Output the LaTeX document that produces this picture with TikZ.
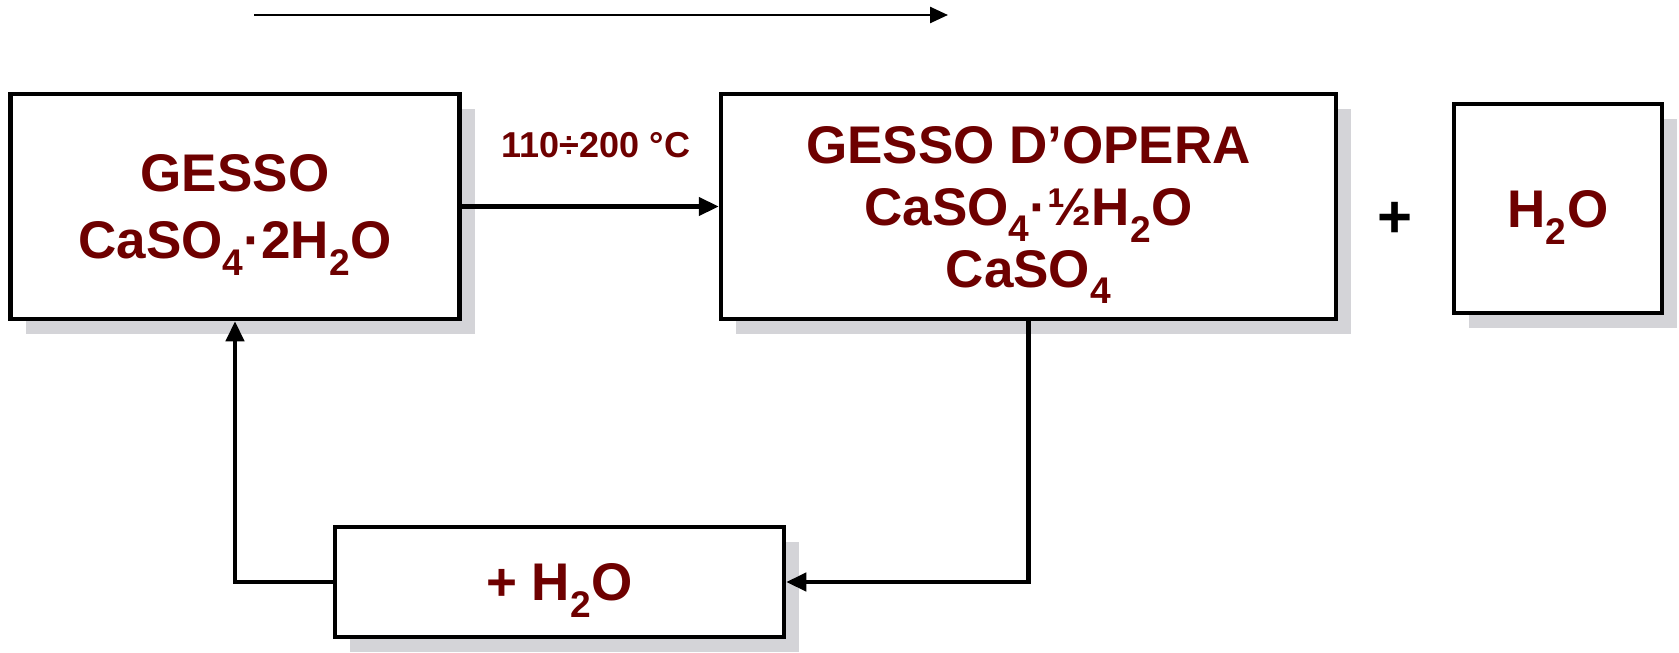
\documentclass[tikz,border=0pt]{standalone}
\usepackage{fontspec}
\setmainfont{Liberation Sans}
\usetikzlibrary{arrows.meta, shadows}
\definecolor{gessored}{RGB}{110,0,0}
\definecolor{shadowgray}{RGB}{212,212,216}
\newcommand{\chsub}[1]{\textsubscript{#1}}
\tikzset{
  font=\bfseries\fontsize{53}{62}\selectfont,
  box/.style = {
    draw,
    line width=4.5pt,
    fill=white,
    inner sep=0pt,
    align=center,
    text depth=0pt,
    text=gessored,
    drop shadow={shadow xshift=15pt, shadow yshift=-15pt,
      fill=shadowgray, opacity=1}
  },
  flow/.style = {
    line width=4.5pt,
    -{Triangle[length=20pt, width=18pt]}
  },
  thinflow/.style = {
    line width=2.5pt,
    -{Triangle[length=18pt, width=16pt]}
  }
}

\begin{document}
\begin{tikzpicture}[x=1pt,y=-1pt]
      \useasboundingbox (0,0) rectangle (1679,653);

      \coordinate (t1) at (254,15);
      \coordinate (t2) at (948,15);
      \draw[thinflow] (t1) -- (t2);

      \node[box, minimum width=449pt, minimum height=225pt] (gesso) at (235,206.5)
        {GESSO\\[5pt]CaSO\chsub{4}·2H\chsub{2}O};
      \node[box, minimum width=615pt, minimum height=225pt] (opera) at (1028.5,206.5)
        {GESSO D’OPERA\\CaSO\chsub{4}·½H\chsub{2}O\\CaSO\chsub{4}};
      \node[box, minimum width=208pt, minimum height=209pt] (acqua) at (1558,208.5)
        {H\chsub{2}O};
      \node[box, minimum width=449pt, minimum height=110pt] (ritorno) at (559.5,582)
        {+ H\chsub{2}O};

      \node[text=black, font=\bfseries\fontsize{60}{70}\selectfont] (piu) at (1395,220) {+};
      \node[text=gessored, font=\bfseries\fontsize{36}{42}\selectfont] (temp) at (596,145)
        {110÷200 °C};

      \draw[flow] (gesso.east) -- (opera.west);
      \draw[flow] (opera.south) |- (ritorno.east);
      \draw[flow] (ritorno.west) -| (gesso.south);
    \end{tikzpicture}
\end{document}
